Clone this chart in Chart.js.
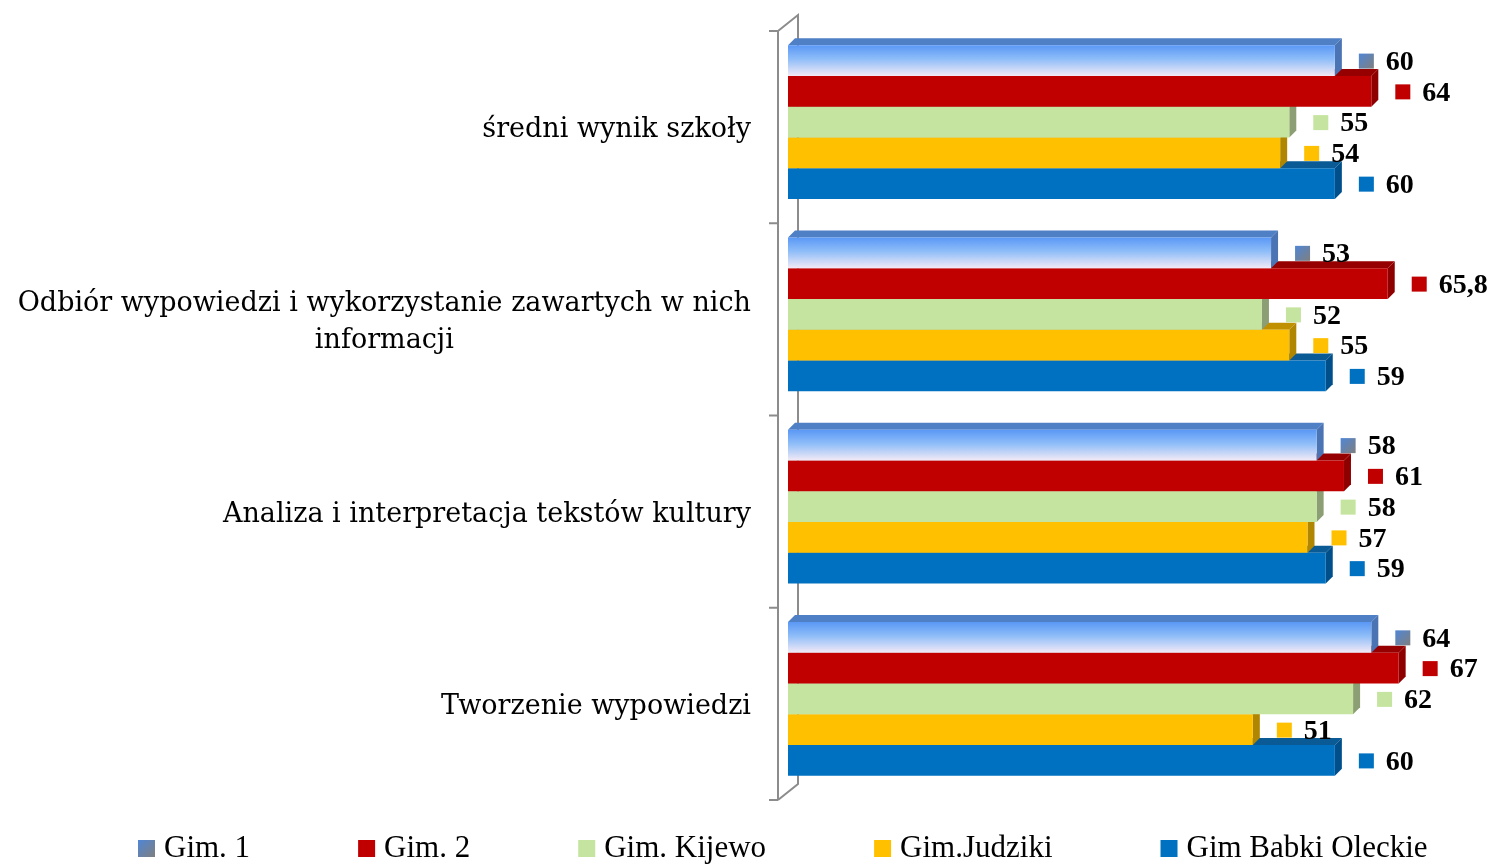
<!DOCTYPE html>
<html>
<head>
<meta charset="utf-8">
<script src="https://cdn.jsdelivr.net/npm/chart.js@4.4.1/dist/chart.umd.min.js"></script>
<style>
  html, body { margin: 0; padding: 0; background: #fff; }
  #wrap { width: 1495px; height: 865px; position: relative; }
</style>
</head>
<body>
<div id="wrap"><canvas id="chart"></canvas></div>
<script>
// kategorie (oś pionowa)
const kategorie = [
	['średni wynik szkoły'],
	['Odbiór wypowiedzi i wykorzystanie zawartych w nich', 'informacji'],
	['Analiza i interpretacja tekstów kultury'],
	['Tworzenie wypowiedzi'],
];
const szkoly = ['Gim. 1', 'Gim. 2', 'Gim. Kijewo', 'Gim.Judziki', 'Gim Babki Oleckie'];

// wyniki [%]
const gim1 = [60, 53, 58, 64];
const gim2 = [64, 65.8, 61, 67];
const kijewo = [55, 52, 58, 62];
const judziki = [54, 55, 57, 51];
const babki = [60, 59, 59, 60];

const kolory = ['#6AA5F8', '#C00000', '#C4E49F', '#FFC000', '#0070C0'];
const boki = ['#4A74B4', '#8E0000', '#8C9E73', '#B08500', '#004F8A'];
const gory = ['#4F7FC4', '#960000', '#9CB07F', '#C09000', '#0A5A96'];

const D = 7; // głębokość efektu 3D
const FONT = '"Liberation Serif", "Times New Roman", serif';

const fmt = (v) => String(v).replace('.', ',');

const trzyD = {
	id: 'trzyD',
	beforeDatasetsDraw(chart) {
		const ctx = chart.ctx;
		const area = chart.chartArea;
		// ściana
		ctx.save();
		ctx.strokeStyle = '#8C8C8C';
		ctx.lineWidth = 2;
		const top = area.top + 5, bot = area.bottom + 5;
		const fx = area.left - 10, bx = area.left + 10;
		ctx.beginPath();
		ctx.moveTo(fx, top); ctx.lineTo(fx, bot);
		ctx.moveTo(fx, top); ctx.lineTo(bx, top - 16);
		ctx.lineTo(bx, bot - 16); ctx.lineTo(fx, bot);
		for (let i = 0; i <= kategorie.length; i++) {
			const ty = top + (bot - top) * i / kategorie.length;
			ctx.moveTo(fx - 9, ty); ctx.lineTo(fx, ty);
		}
		ctx.stroke();

		// górne i boczne ściany słupków, od dołu do góry
		for (let d = chart.data.datasets.length - 1; d >= 0; d--) {
			const meta = chart.getDatasetMeta(d);
			meta.data.forEach((el) => {
				const t = el.y - el.height / 2, b = el.y + el.height / 2;
				const l = el.base, r = el.x;
				ctx.fillStyle = gory[d];
				ctx.beginPath();
				ctx.moveTo(l, t); ctx.lineTo(l + D, t - D); ctx.lineTo(r + D, t - D); ctx.lineTo(r, t);
				ctx.closePath(); ctx.fill();
				ctx.fillStyle = boki[d];
				ctx.beginPath();
				ctx.moveTo(r, t); ctx.lineTo(r + D, t - D); ctx.lineTo(r + D, b - D); ctx.lineTo(r, b);
				ctx.closePath(); ctx.fill();
			});
		}
		// gradient dla Gim. 1
		chart.getDatasetMeta(0).data.forEach((el) => {
			const g = ctx.createLinearGradient(0, el.y - el.height / 2, 0, el.y + el.height / 2);
			g.addColorStop(0, '#5A98F6');
			g.addColorStop(0.45, '#8EBDF8');
			g.addColorStop(1, '#F3EAF6');
			el.options = Object.assign({}, el.options, { backgroundColor: g });
		});
		ctx.restore();
	},
	afterDatasetsDraw(chart) {
		const ctx = chart.ctx;
		ctx.save();
		ctx.textBaseline = 'middle';
		ctx.font = 'bold 28px ' + FONT;
		chart.data.datasets.forEach((ds, d) => {
			chart.getDatasetMeta(d).data.forEach((el, i) => {
				const sx = el.x + 24, sy = el.y - 7;
				if (d === 0) {
					const g = ctx.createLinearGradient(sx, sy, sx + 15, sy + 15);
					g.addColorStop(0, '#4F86D6'); g.addColorStop(1, '#7F7F7F');
					ctx.fillStyle = g;
				} else {
					ctx.fillStyle = kolory[d];
				}
				ctx.fillRect(sx, sy, 15, 15);
				ctx.fillStyle = '#000';
				ctx.fillText(fmt(ds.data[i]), el.x + 51, el.y + 2);
			});
		});
		// etykiety kategorii
		const y = chart.scales.y;
		ctx.font = '27px "DejaVu Serif", serif';
		ctx.textAlign = 'right';
		kategorie.forEach((lines, i) => {
			const cy = y.getPixelForValue(i) + 8;
			const w = Math.max(...lines.map((s) => ctx.measureText(s).width));
			const lh = 37;
			lines.forEach((s, k) => {
				const ly = cy - (lines.length - 1) * lh / 2 + k * lh;
				const sw = ctx.measureText(s).width;
				ctx.fillText(s, 751 - (w - sw) / 2, ly);
			});
		});
		ctx.restore();
	},
	afterDraw(chart) {
		// legenda
		const ctx = chart.ctx;
		ctx.save();
		ctx.font = '31px ' + FONT;
		ctx.textBaseline = 'middle';
		let x = 138;
		const ly = 848;
		szkoly.forEach((s, d) => {
			if (d === 0) {
				const g = ctx.createLinearGradient(x, ly - 8, x + 17, ly + 9);
				g.addColorStop(0, '#4F86D6'); g.addColorStop(1, '#7F7F7F');
				ctx.fillStyle = g;
			} else {
				ctx.fillStyle = kolory[d];
			}
			ctx.fillRect(x, ly - 8, 17, 17);
			ctx.fillStyle = '#000';
			ctx.fillText(s, x + 26, ly + 1);
			x += 26 + ctx.measureText(s).width + 108;
		});
		ctx.restore();
	},
};

new Chart(document.getElementById('chart'), {
	type: 'bar',
	data: {
		labels: kategorie,
		datasets: [
			{ label: szkoly[0], data: gim1, backgroundColor: kolory[0] },
			{ label: szkoly[1], data: gim2, backgroundColor: kolory[1] },
			{ label: szkoly[2], data: kijewo, backgroundColor: kolory[2] },
			{ label: szkoly[3], data: judziki, backgroundColor: kolory[3] },
			{ label: szkoly[4], data: babki, backgroundColor: kolory[4] },
		],
	},
	options: {
		indexAxis: 'y',
		responsive: true,
		maintainAspectRatio: false,
		animation: false,
		layout: { padding: { left: 788, right: 69, top: 26, bottom: 70 } },
		datasets: { bar: { categoryPercentage: 0.8, barPercentage: 1, borderWidth: 0 } },
		scales: {
			x: { display: false, min: 0, max: 70 },
			y: { display: false },
		},
		plugins: {
			legend: { display: false },
			tooltip: { enabled: false },
		},
	},
	plugins: [trzyD],
});
</script>
</body>
</html>
